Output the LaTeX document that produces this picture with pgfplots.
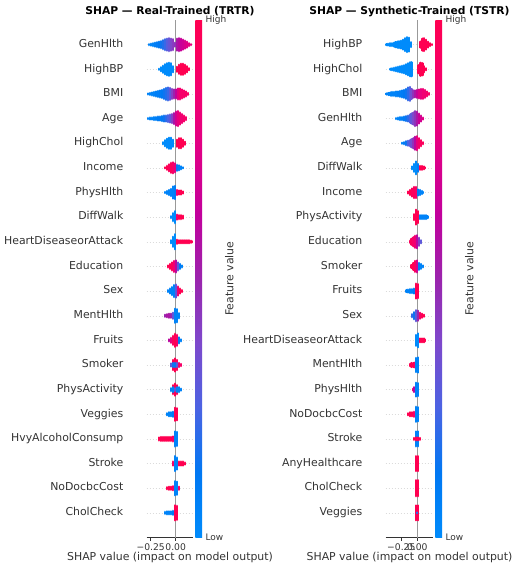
\documentclass[border=0pt]{standalone}
\usepackage{pgfplots}
\pgfplotsset{compat=1.18}
\usepackage{fontspec}
\setmainfont{DejaVu Sans}
\definecolor{txt}{HTML}{333333}
\definecolor{zline}{HTML}{999999}
\pgfplotsset{
  colormap={shap}{rgb255=(0,139,251) rgb255=(0,120,243) rgb255=(75,99,227) rgb255=(125,73,204) rgb255=(155,36,173) rgb255=(194,0,156) rgb255=(224,0,134) rgb255=(245,0,109) rgb255=(255,0,81)},
  shapaxis/.style={
    scale only axis, height=517.5pt, anchor=south west, clip=false,
    ymin=0, ymax=21, ytick={1,...,20},
    axis x line*=bottom, axis y line*=left,
    y axis line style={draw=none}, ytick style={draw=none},
    x axis line style={color=txt, line width=0.6pt},
    xtick style={color=txt, line width=0.6pt},
    tick align=outside, major tick length=3pt,
    ymajorgrids, grid style={color=black!14, line width=0.4pt, dash pattern=on 0.5pt off 2.5pt},
    yticklabel style={font=\fontsize{10.9}{12}\selectfont, color=txt, inner sep=0pt, anchor=mid east, xshift=-20.2pt},
    xticklabel style={font=\fontsize{9.2}{10}\selectfont, color=txt},
    xlabel={SHAP value (impact on model output)},
    xlabel style={font=\fontsize{10.9}{12}\selectfont, color=txt, at={(0.5,0)}, anchor=base, yshift=-22.5pt},
    title style={font=\bfseries\fontsize{10.7}{12}\selectfont, at={(0.5,1)}, anchor=base, yshift=-0.5pt},
    colormap name=shap, point meta min=0, point meta max=1,
    colorbar, colorbar shift/.style={},
    colorbar style={
      at={(parent axis.north east)}, anchor=north west, xshift=2.1pt,
      width=6.8pt,
      ytick={0,1}, yticklabels={Low,High},
      major tick length=0pt,
      yticklabel style={font=\fontsize{9}{10}\selectfont, color=txt, inner sep=0pt, anchor=mid west, xshift=3.2pt},
      ytick style={draw=none},
      axis line style={draw=none},
      ylabel={Feature value},
      every axis y label/.style={at={(1,0.5)}, xshift=22.8pt, rotate=90, anchor=north, inner sep=0pt, font=\fontsize{10.9}{12}\selectfont, color=txt},
    },
  },
  shapstrips/.style={quiver={u=0, v=2*\thisrow{h}/24.64, colored=mapped color}, -, line cap=round, point meta=\thisrow{c}},
}
\begin{document}
\begin{tikzpicture}
\path[use as bounding box] (0,0) rectangle (517pt,573pt);
\begin{axis}[shapaxis, at={(146.7pt,35.5pt)}, width=46.6pt, xmin=-0.29, xmax=0.176,
  xtick={-0.25,0}, xticklabels={−0.25,0.00},
  title={SHAP — Real-Trained (TRTR)},
  yticklabels={CholCheck,NoDocbcCost,Stroke,HvyAlcoholConsump,Veggies,PhysActivity,Smoker,Fruits,MentHlth,Sex,Education,HeartDiseaseorAttack,DiffWalk,PhysHlth,Income,HighChol,Age,BMI,HighBP,GenHlth}]
\addplot[zline, line width=0.9pt] coordinates {(0,0) (0,21)};
\addplot[shapstrips, line width=2.3pt] table[x=x, y expr=\thisrow{y}-\thisrow{h}/24.64, row sep=\\]{
x y h c\\
-0.27 20 0.5 0.05\\ -0.25 20 1 0.05\\ -0.23 20 1.5 0.05\\ -0.21 20 2 0.08\\ -0.19 20 2.5 0.1\\ -0.17 20 3 0.12\\ -0.15 20 3.5 0.15\\ -0.13 20 4.5 0.18\\ -0.11 20 5.5 0.22\\ -0.09 20 6 0.28\\ -0.07 20 6.5 0.32\\ -0.05 20 6 0.38\\ -0.03 20 5.5 0.42\\ -0.01 20 2 0.45\\ 0.01 20 6 0.55\\ 0.03 20 6.5 0.6\\ 0.05 20 6 0.65\\ 0.07 20 5 0.68\\ 0.09 20 4 0.72\\ 0.11 20 3 0.75\\ 0.13 20 1.5 0.78\\ 0.15 20 0.5 0.8\\
-0.17 19 0.5 0\\ -0.15 19 2 0\\ -0.13 19 3.5 0\\ -0.11 19 5 0\\ -0.09 19 6 0\\ -0.07 19 6.5 0\\ -0.05 19 6 0\\ -0.03 19 3 0\\ 0.01 19 2.5 1\\ 0.03 19 4.5 1\\ 0.05 19 5.5 1\\ 0.07 19 5.5 1\\ 0.09 19 4.5 1\\ 0.11 19 3 1\\ 0.13 19 1 1\\
-0.28 18 0.5 0.05\\ -0.26 18 1 0.05\\ -0.24 18 1.5 0.05\\ -0.22 18 2 0.05\\ -0.20 18 2.5 0.08\\ -0.18 18 3 0.08\\ -0.16 18 3.5 0.1\\ -0.14 18 4 0.12\\ -0.12 18 5 0.15\\ -0.10 18 6 0.18\\ -0.08 18 6.5 0.22\\ -0.06 18 6 0.3\\ -0.04 18 5 0.4\\ -0.02 18 4.5 0.5\\ 0.00 18 4.5 0.62\\ 0.02 18 5.5 0.78\\ 0.04 18 5.5 0.88\\ 0.06 18 4.5 0.9\\ 0.08 18 3.5 0.9\\ 0.10 18 2.5 0.92\\ 0.12 18 1 0.92\\
-0.28 17 0.5 0.05\\ -0.26 17 1 0.05\\ -0.24 17 1 0.05\\ -0.22 17 1.5 0.05\\ -0.20 17 1.5 0.08\\ -0.18 17 2 0.1\\ -0.16 17 2 0.1\\ -0.14 17 2.5 0.12\\ -0.12 17 3 0.15\\ -0.10 17 3 0.2\\ -0.08 17 3.5 0.25\\ -0.06 17 4 0.3\\ -0.04 17 4.5 0.4\\ -0.02 17 5.5 0.55\\ 0.00 17 7 0.7\\ 0.02 17 7.5 0.8\\ 0.04 17 6 0.85\\ 0.06 17 4.5 0.85\\ 0.08 17 3 0.9\\ 0.10 17 1.5 0.9\\
-0.13 16 1 0\\ -0.11 16 3 0\\ -0.09 16 4.5 0\\ -0.07 16 5.5 0\\ -0.05 16 5.5 0\\ -0.03 16 3.5 0\\ 0.01 16 3.5 1\\ 0.03 16 5 1\\ 0.05 16 5 1\\ 0.07 16 3.5 1\\ 0.09 16 1.5 1\\
-0.11 15 0.5 1\\ -0.09 15 2 1\\ -0.07 15 3.5 0.95\\ -0.05 15 5 0.95\\ -0.03 15 5.5 0.9\\ -0.01 15 4.5 0.8\\ 0.01 15 3 0.15\\ 0.03 15 2.5 0.05\\ 0.05 15 1.5 0.05\\ 0.07 15 0.5 0.05\\
-0.11 14 0.5 0.05\\ -0.09 14 1.5 0.05\\ -0.07 14 2.5 0.05\\ -0.05 14 3.5 0.05\\ -0.03 14 6 0.05\\ -0.01 14 6.5 0.1\\ 0.01 14 2.5 0.9\\ 0.03 14 2 1\\ 0.05 14 2 1\\ 0.07 14 1 1\\
-0.05 13 1 0\\ -0.03 13 4 0\\ -0.01 13 6 0\\ 0.01 13 2.5 0.9\\ 0.03 13 2 1\\ 0.05 13 2 1\\ 0.07 13 1.5 1\\
-0.05 12 1.5 0\\ -0.03 12 5 0\\ -0.01 12 7.5 0\\ 0.01 12 2 1\\ 0.03 12 1.5 1\\ 0.05 12 1.5 1\\ 0.07 12 1.5 1\\ 0.09 12 1.5 1\\ 0.11 12 1.5 1\\ 0.13 12 1.5 1\\ 0.15 12 1 1\\ 0.165 12 0.5 1\\
-0.08 11 1 1\\ -0.06 11 2.5 1\\ -0.04 11 4 0.95\\ -0.02 11 5.5 0.85\\ 0.00 11 6 0.6\\ 0.02 11 4 0.3\\ 0.04 11 2.5 0.1\\ 0.06 11 1 0.05\\
-0.08 10 1 0.05\\ -0.06 10 2.5 0.05\\ -0.04 10 4 0.05\\ -0.02 10 6 0.05\\ 0.00 10 6.5 0.3\\ 0.02 10 4.5 0.85\\ 0.04 10 2.5 1\\ 0.06 10 1 1\\
-0.11 9 1 0.5\\ -0.09 9 1.5 0.55\\ -0.07 9 2 0.55\\ -0.05 9 2 0.5\\ -0.03 9 3 0.3\\ -0.01 9 7 0.05\\ 0.01 9 6.5 0.05\\ 0.03 9 2.5 0.05\\
-0.07 8 1 0.6\\ -0.05 8 2.5 0.8\\ -0.03 8 4.5 0.95\\ -0.01 8 6.5 1\\ 0.01 8 5.5 0.9\\ 0.03 8 3 0.1\\ 0.05 8 1 0.05\\
-0.03 7 5 1\\ -0.01 7 6.5 1\\ 0.01 7 5 0.95\\ -0.05 7 1.5 0.3\\ -0.03 7 2 0.15\\ -0.01 7 2 0.1\\ 0.01 7 2 0.3\\ 0.03 7 2 0.9\\ 0.05 7 1 0.9\\
-0.03 6 4.5 1\\ -0.01 6 6 1\\ 0.01 6 4.5 1\\ -0.05 6 1.5 0.05\\ -0.03 6 2.5 0.05\\ -0.01 6 1.5 0.3\\ 0.01 6 2.5 0.05\\ 0.03 6 2.5 0.05\\ 0.05 6 1 0.05\\
-0.09 5 1 0.05\\ -0.07 5 2 0.05\\ -0.05 5 2 0.05\\ -0.03 5 2.5 0.1\\ -0.01 5 6.5 1\\ 0.01 5 6 1\\
-0.17 4 1.5 1\\ -0.15 4 2 1\\ -0.13 4 2 1\\ -0.11 4 2 1\\ -0.09 4 2 1\\ -0.07 4 2 1\\ -0.05 4 2 1\\ -0.03 4 2.5 0.9\\ -0.01 4 7.5 0.05\\ 0.01 4 7 0.05\\
-0.03 3 2 0.9\\ -0.01 3 7.5 0.05\\ 0.01 3 6 0.05\\ 0.03 3 2 1\\ 0.05 3 2 1\\ 0.07 3 2 1\\ 0.09 3 1 1\\
-0.09 2 1 1\\ -0.07 2 1.5 1\\ -0.05 2 1.5 1\\ -0.03 2 2 0.9\\ -0.01 2 7 0.05\\ 0.01 2 6.5 0.05\\ 0.03 2 1.5 0.9\\
-0.11 1 1 0.05\\ -0.09 1 1.5 0.05\\ -0.07 1 1.5 0.05\\ -0.05 1 1.5 0.05\\ -0.03 1 2 0.1\\ -0.01 1 7.5 1\\ 0.01 1 7 1\\
};
\end{axis}
\begin{axis}[shapaxis, at={(385.7pt,35.5pt)}, width=47.6pt, xmin=-0.494, xmax=0.25,
  xtick={-0.25,0}, xticklabels={−0.25,0.00},
  title={SHAP — Synthetic-Trained (TSTR)},
  yticklabels={Veggies,CholCheck,AnyHealthcare,Stroke,NoDocbcCost,PhysHlth,MentHlth,HeartDiseaseorAttack,Sex,Fruits,Smoker,Education,PhysActivity,Income,DiffWalk,Age,GenHlth,BMI,HighChol,HighBP}]
\addplot[zline, line width=0.9pt] coordinates {(0,0) (0,21)};
\addplot[shapstrips, line width=2.2pt] table[x=x, y expr=\thisrow{y}-\thisrow{h}/24.64, row sep=\\]{
x y h c\\
-0.48 20 0.5 0\\ -0.46 20 1 0\\ -0.43 20 1.5 0\\ -0.40 20 1.5 0\\ -0.37 20 2 0\\ -0.34 20 2.5 0\\ -0.31 20 3 0\\ -0.28 20 3.5 0\\ -0.25 20 4 0\\ -0.22 20 5 0\\ -0.19 20 6.5 0\\ -0.16 20 7.5 0\\ -0.13 20 7 0\\ -0.10 20 2.5 0\\ 0.05 20 3 1\\ 0.08 20 6 1\\ 0.11 20 6.5 1\\ 0.14 20 5 1\\ 0.17 20 3 1\\ 0.20 20 1.5 1\\ 0.23 20 0.5 1\\
-0.42 19 0.5 0\\ -0.39 19 1 0\\ -0.36 19 1.5 0\\ -0.33 19 2 0\\ -0.30 19 2.5 0\\ -0.27 19 3 0\\ -0.24 19 3.5 0\\ -0.21 19 4 0\\ -0.18 19 5 0\\ -0.15 19 6 0\\ -0.12 19 7 0\\ -0.09 19 7 0\\ 0.02 19 4 1\\ 0.05 19 6.5 1\\ 0.08 19 6 1\\ 0.11 19 3 1\\ 0.13 19 1 1\\
-0.48 18 0.5 0.05\\ -0.45 18 1 0.05\\ -0.42 18 1.5 0.05\\ -0.39 18 2 0.05\\ -0.36 18 2 0.05\\ -0.33 18 2.5 0.05\\ -0.30 18 2.5 0.08\\ -0.27 18 3 0.08\\ -0.24 18 3.5 0.1\\ -0.21 18 4 0.12\\ -0.18 18 5 0.15\\ -0.15 18 6.5 0.2\\ -0.12 18 7 0.25\\ -0.09 18 5 0.35\\ -0.06 18 3.5 0.45\\ -0.03 18 3.5 0.55\\ 0.00 18 4 0.65\\ 0.03 18 4.5 0.75\\ 0.06 18 5 0.8\\ 0.09 18 5 0.85\\ 0.12 18 4 0.85\\ 0.15 18 2.5 0.9\\ 0.18 18 1 0.9\\
-0.33 17 0.5 0.05\\ -0.30 17 1 0.05\\ -0.27 17 1.5 0.05\\ -0.24 17 1.5 0.08\\ -0.21 17 2 0.1\\ -0.18 17 2.5 0.15\\ -0.15 17 3 0.2\\ -0.12 17 4 0.25\\ -0.09 17 5 0.3\\ -0.06 17 6 0.38\\ -0.03 17 7.5 0.45\\ 0.00 17 7 0.55\\ 0.03 17 5 0.65\\ 0.06 17 3 0.7\\ 0.09 17 1 0.75\\
-0.24 16 0.5 0.05\\ -0.21 16 1 0.1\\ -0.18 16 2 0.15\\ -0.15 16 2.5 0.25\\ -0.12 16 3 0.3\\ -0.09 16 4 0.35\\ -0.06 16 5 0.45\\ -0.03 16 6.5 0.6\\ 0.00 16 7 0.8\\ 0.03 16 5 0.9\\ 0.06 16 3 0.95\\ 0.09 16 1 0.95\\
-0.08 15 1.5 0\\ -0.05 15 4 0\\ -0.02 15 6.5 0\\ 0.01 15 4 0.1\\ 0.04 15 2 1\\ 0.07 15 2 1\\ 0.10 15 1.5 1\\ 0.12 15 0.5 1\\
-0.14 14 1 1\\ -0.11 14 2.5 1\\ -0.08 14 4 0.95\\ -0.05 14 5.5 0.95\\ -0.02 14 5.5 0.9\\ 0.01 14 3 0.1\\ 0.04 14 2.5 0.05\\ 0.07 14 1.5 0.05\\ 0.09 14 0.5 0.05\\
-0.05 13 3 1\\ -0.02 13 7.5 1\\ 0.01 13 6 1\\ 0.04 13 2 0.05\\ 0.07 13 2 0.05\\ 0.10 13 2 0.05\\ 0.13 13 2 0.05\\ 0.16 13 1 0.05\\
-0.12 12 1 0.95\\ -0.09 12 3 0.95\\ -0.06 12 4.5 0.9\\ -0.03 12 6 0.85\\ 0.00 12 6.5 0.6\\ 0.03 12 4 0.4\\ 0.06 12 1.5 0.3\\
-0.09 11 1.5 1\\ -0.06 11 3.5 1\\ -0.03 11 5.5 0.95\\ 0.00 11 6 0.7\\ 0.03 11 3.5 0.1\\ 0.06 11 2.5 0.05\\ 0.09 11 1 0.05\\
-0.17 10 1 0.05\\ -0.14 10 1.5 0.05\\ -0.11 10 2 0.05\\ -0.08 10 2 0.05\\ -0.05 10 2.5 0.1\\ -0.02 10 7.5 1\\ 0.01 10 7 1\\
-0.08 9 1.5 0.2\\ -0.05 9 3.5 0.15\\ -0.02 9 5.5 0.3\\ 0.01 9 5 0.5\\ 0.04 9 3 0.9\\ 0.07 9 2 1\\ 0.10 9 1 1\\
-0.02 8 5.5 0\\ 0.01 8 7 0\\ 0.04 8 2 1\\ 0.07 8 2 1\\ 0.10 8 2 1\\ 0.12 8 1 1\\
-0.12 7 1 1\\ -0.09 7 2 1\\ -0.06 7 2 1\\ -0.04 7 2.5 0.9\\ -0.02 7 7 0.05\\ 0.01 7 7.5 0.05\\
-0.07 6 1 0.9\\ -0.05 6 2.5 0.6\\ -0.02 6 7 0.05\\ 0.01 6 6.5 0.05\\
-0.14 5 1 1\\ -0.11 5 2 1\\ -0.08 5 2 1\\ -0.05 5 2.5 0.9\\ -0.02 5 7.5 0.05\\ 0.01 5 7 0.05\\
-0.02 4 7.5 0.05\\ 0.01 4 7.5 0.05\\ -0.05 4 1 1\\ -0.02 4 1.5 1\\ 0.01 4 1.5 1\\ 0.04 4 1 1\\
-0.02 3 7.5 1\\ 0.01 3 7.5 1\\
-0.02 2 8 1\\ 0.01 2 8 1\\
-0.02 1 7.5 1\\ 0.01 1 7.5 1\\ -0.005 1 0.5 0.2\\
};
\end{axis}
\end{tikzpicture}
\end{document}
